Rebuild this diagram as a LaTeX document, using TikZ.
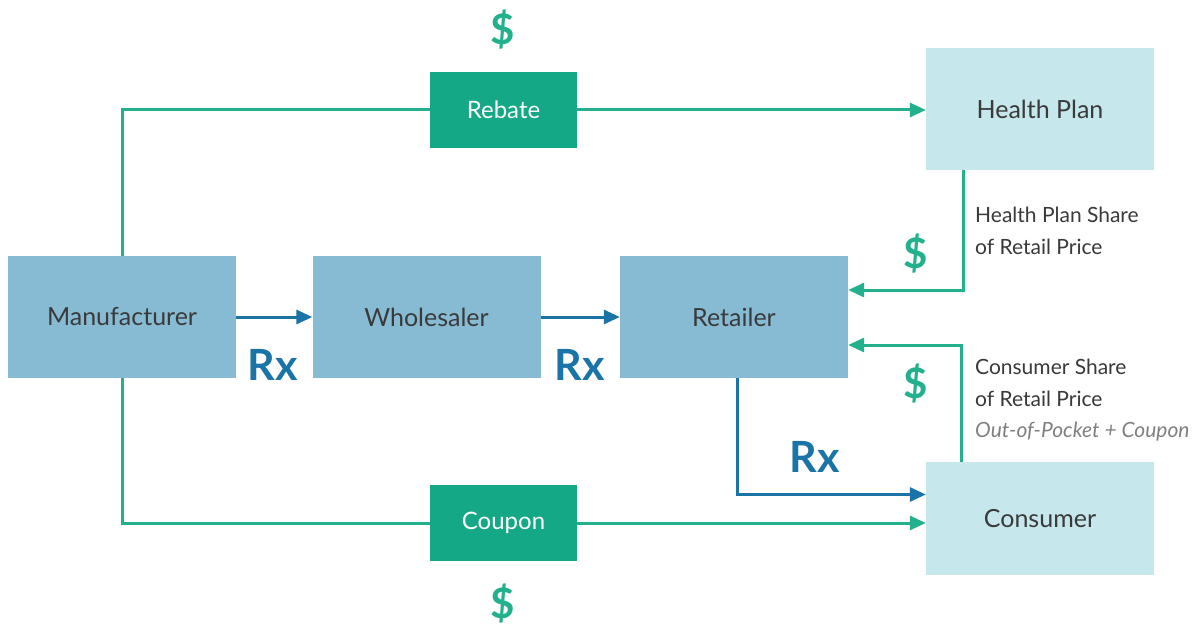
\documentclass[tikz,border=0pt]{standalone}
\usepackage{fontspec}
\setmainfont{Lato}
\usetikzlibrary{arrows.meta}
\definecolor{boxblue}{HTML}{87BBD4}
\definecolor{boxcyan}{HTML}{C6E7EB}
\definecolor{boxgreen}{HTML}{15A887}
\definecolor{linegreen}{HTML}{22B08D}
\definecolor{rxblue}{HTML}{1A74A8}
\definecolor{txtgray}{HTML}{3A3A3A}
\tikzset{
  mainbox/.style={fill=boxblue, draw=none, minimum width=228pt, minimum height=122pt, inner sep=0pt, text=txtgray, font=\fontsize{25}{30}\selectfont},
  cyanbox/.style={mainbox, fill=boxcyan},
  greenbox/.style={fill=boxgreen, draw=none, minimum width=147pt, minimum height=76pt, inner sep=0pt, text=white, font=\fontsize{24}{28}\selectfont},
  gline/.style={draw=linegreen, line width=3pt},
  garrow/.style={gline, -{Triangle[length=16pt,width=14pt]}},
  barrow/.style={draw=rxblue, line width=3pt, -{Triangle[length=16pt,width=14pt]}},
  rxlabel/.style={text=rxblue, font=\fontsize{43}{48}\selectfont\bfseries, inner sep=0pt},
  dollar/.style={text=linegreen, font=\fontsize{42}{46}\selectfont\bfseries, inner sep=0pt},
  note/.style={text=txtgray, font=\fontsize{21}{31.5}\selectfont, align=left, anchor=north west, inner sep=0pt},
}
\begin{document}
\begin{tikzpicture}[x=1pt,y=-1pt]
\fill[white] (0,0) rectangle (1196,628);
\useasboundingbox (0,0) rectangle (1196,628);

\node[mainbox] (man) at (122,317) {Manufacturer};
\node[mainbox] (who) at (426.5,317) {Wholesaler};
\node[mainbox] (ret) at (734,317) {Retailer};
\node[cyanbox] (hp) at (1040,109) {Health Plan};
\node[cyanbox, minimum height=113pt] (con) at (1040,518.5) {Consumer};
\node[greenbox] (reb) at (503.5,110) {Rebate};
\node[greenbox] (cou) at (503.5,523) {Coupon};

% green flows
\draw[gline] (man.north) |- (reb.west);
\draw[garrow] (reb.east) -- (reb.east -| hp.west);
\draw[gline] (man.south) |- (cou.west);
\draw[garrow] (cou.east) -- (cou.east -| con.west);
\draw[garrow] ([xshift=-77pt]hp.south) |- ([yshift=27pt]ret.east);
\draw[garrow] ([xshift=-79pt]con.north) |- ([yshift=-28pt]ret.east);

% blue flows
\draw[barrow] (man.east) -- (who.west);
\draw[barrow] (who.east) -- (ret.west);
\draw[barrow] ([xshift=3pt]ret.south) |- ([yshift=24pt]con.west);

% labels
\node[rxlabel] (rx1) at (273,365) {Rx};
\node[rxlabel] (rx2) at (580,365) {Rx};
\node[rxlabel] (rx3) at (815,457) {Rx};
\node[dollar] (d1) at (503,30) {\$};
\node[dollar] (d2) at (503,604) {\$};
\node[dollar] (d3) at (916,254) {\$};
\node[dollar] (d4) at (916,384) {\$};

\node[note] (n1) at (975,207) {Health Plan Share\\of Retail Price};
\node[note] (n2) at (975,359) {Consumer Share\\of Retail Price\\{\color{gray}\itshape Out-of-Pocket + Coupon}};
\end{tikzpicture}
\end{document}
